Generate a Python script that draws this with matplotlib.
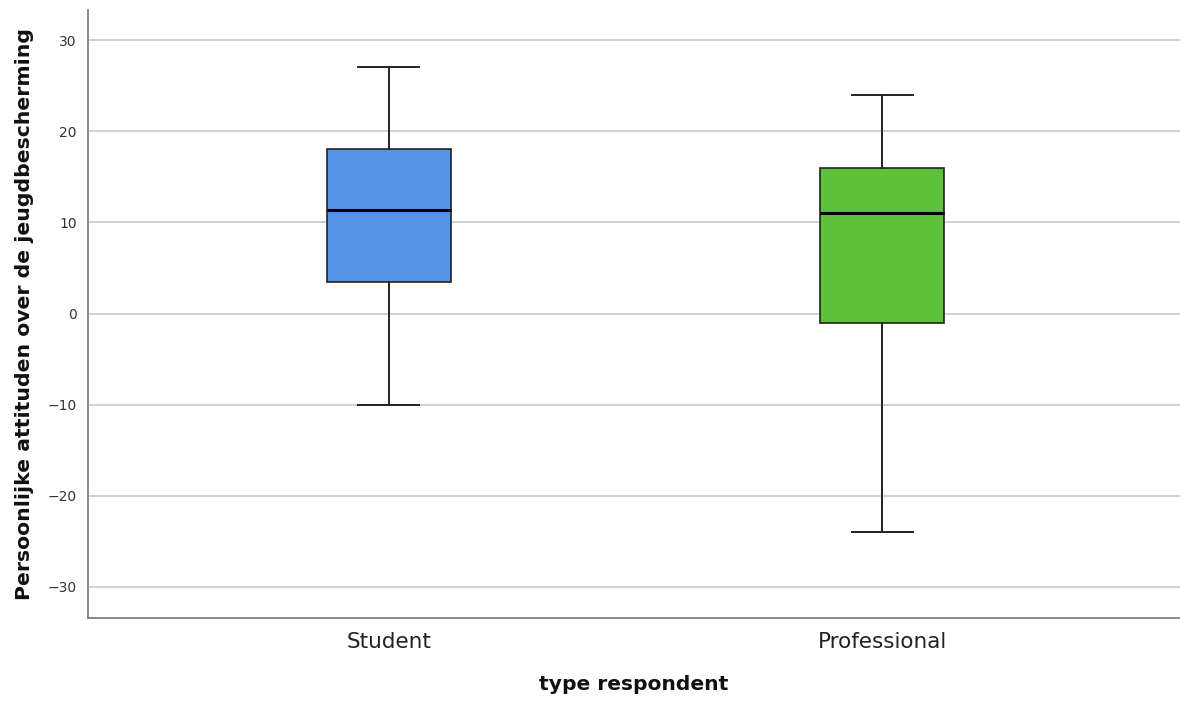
import matplotlib
matplotlib.use("Agg")
import matplotlib.pyplot as plt

categories = ["Student", "Professional"]
whisker_low = [-10, -24]
q1 = [3.5, -1]
median = [11.4, 11]
q3 = [18, 16]
whisker_high = [27, 24]
colors = ["#5294E2", "#5DC13A"]
yticks = [-30, -20, -10, 0, 10, 20, 30]

plt.rcParams['font.family'] = ['DejaVu Sans']

fig = plt.figure(figsize=(11.8, 7.02), dpi=100)
ax = fig.add_axes([0.0746, 0.1197, 0.9254, 0.8661])

stats = []
for i, c in enumerate(categories):
    stats.append(dict(label=c, whislo=whisker_low[i], q1=q1[i], med=median[i],
                      q3=q3[i], whishi=whisker_high[i], fliers=[]))

bp = ax.bxp(stats, positions=range(len(categories)), widths=0.25,
            patch_artist=True, showfliers=False, showcaps=True,
            boxprops=dict(edgecolor="#222222", linewidth=1.2),
            medianprops=dict(color="black", linewidth=2.2),
            whiskerprops=dict(color="#222222", linewidth=1.4),
            capprops=dict(color="#222222", linewidth=1.4),
            capwidths=0.124)
for patch, col in zip(bp['boxes'], colors):
    patch.set_facecolor(col)

ax.set_xlim(-0.61, 1.604)
ax.set_ylim(-33.4, 33.3)
ax.set_yticks(yticks)
ax.set_yticklabels([str(t).replace('-', '\u2212') for t in yticks], fontsize=10, color="#333333")
ax.set_xticks(range(len(categories)))
ax.set_xticklabels(categories, fontsize=15.5, color="#222222")
ax.tick_params(axis='both', length=0, pad=8)
ax.tick_params(axis='x', pad=10)
ax.yaxis.grid(True, color="#C8C8C8", linewidth=1.2)
ax.set_axisbelow(True)
for s in ['top', 'right']:
    ax.spines[s].set_visible(False)
for s in ['left', 'bottom']:
    ax.spines[s].set_color("#777777")
    ax.spines[s].set_linewidth(1.2)

ax.set_xlabel("type respondent", fontsize=14.6, fontweight='bold', labelpad=17, color="#111111")
ax.set_ylabel("Persoonlijke attituden over de jeugdbescherming", fontsize=14.7,
              fontweight='bold', labelpad=10, color="#111111")

fig.savefig("out.png", dpi=100)
